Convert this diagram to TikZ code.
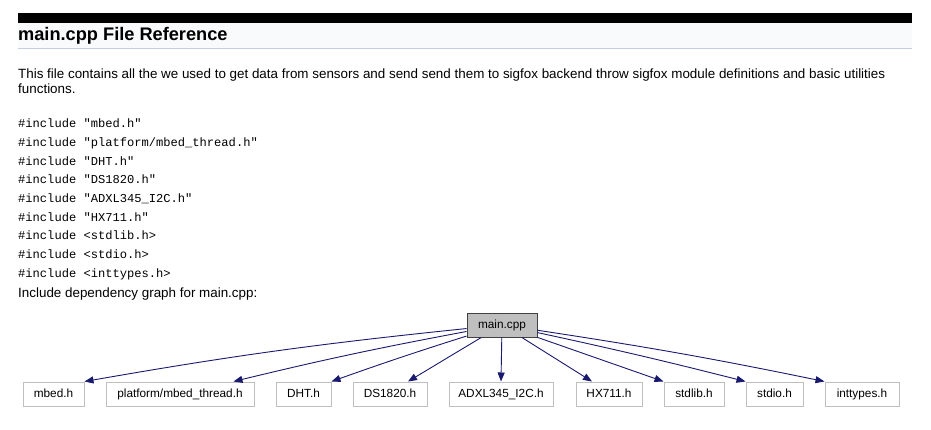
\documentclass[tikz,border=0pt]{standalone}
\usepackage{fontspec}
\setmainfont{Liberation Sans}
\setmonofont{Liberation Mono}
\usetikzlibrary{arrows.meta}
\definecolor{DocBar}{HTML}{000000}
\definecolor{DocHead}{HTML}{F9FAFC}
\definecolor{DocRule}{HTML}{C4CFE5}
\definecolor{GraphEdge}{HTML}{191970}
\definecolor{GraphLine}{HTML}{BFBFBF}
\definecolor{GraphMain}{HTML}{BFBFBF}
\definecolor{GraphMainLine}{HTML}{404040}
\tikzset{
  doctext/.style={anchor=base west,inner sep=0pt,font=\fontsize{13.4}{16}\selectfont},
  codeline/.style={anchor=base west,inner sep=0pt,font=\ttfamily\fontsize{12.1}{14}\selectfont},
  incfile/.style={draw=GraphLine,line width=1pt,inner sep=0pt,minimum height=24pt,text height=8.6pt,text depth=2.4pt,font=\fontsize{11.8}{13}\selectfont},
  mainfile/.style={incfile,draw=GraphMainLine,fill=GraphMain},
  incedge/.style={GraphEdge,line width=0.9pt,-{Triangle[length=9pt,width=7pt]}}
}
\begin{document}
\begin{tikzpicture}[x=1pt,y=-1pt]
\path[use as bounding box,fill=white] (0,0) rectangle (931,430);
% heading
\fill[DocBar] (18,13) rectangle (912,23);
\fill[DocHead] (18,23) rectangle (912,48);
\draw[DocRule] (18,48) -- (912,48);
\node[anchor=base west,inner sep=0pt,font=\bfseries\fontsize{18.2}{21}\selectfont] (title) at (18,41) {main.cpp File Reference};
\node[doctext] (brief1) at (18,79) {This file contains all the we used to get data from sensors and send send them to sigfox backend throw sigfox module definitions and basic utilities};
\node[doctext] (brief2) at (18,94) {functions.};
% include list
\node[codeline] (inc1) at (18,128) {\#include "mbed.h"};
\node[codeline] (inc2) at (18,146.7) {\#include "platform/mbed\_thread.h"};
\node[codeline] (inc3) at (18,165.3) {\#include "DHT.h"};
\node[codeline] (inc4) at (18,184) {\#include "DS1820.h"};
\node[codeline] (inc5) at (18,202.7) {\#include "ADXL345\_I2C.h"};
\node[codeline] (inc6) at (18,221.3) {\#include "HX711.h"};
\node[codeline] (inc7) at (18,240) {\#include <stdlib.h>};
\node[codeline] (inc8) at (18,258.7) {\#include <stdio.h>};
\node[codeline] (inc9) at (18,277.3) {\#include <inttypes.h>};
\node[doctext] (graphcap) at (18,297) {Include dependency graph for main.cpp:};
% dependency graph
\node[mainfile,minimum width=70pt] (main) at (502,325) {main.cpp};
\node[incfile,minimum width=61pt] (mbed) at (53.5,394) {mbed.h};
\node[incfile,minimum width=148pt] (thread) at (180,394) {platform/mbed\_thread.h};
\node[incfile,minimum width=55pt] (dht) at (303.5,394) {DHT.h};
\node[incfile,minimum width=74pt] (ds1820) at (390,394) {DS1820.h};
\node[incfile,minimum width=104pt] (adxl) at (501,394) {ADXL345\_I2C.h};
\node[incfile,minimum width=66pt] (hx711) at (609,394) {HX711.h};
\node[incfile,minimum width=60pt] (stdlib) at (694,394) {stdlib.h};
\node[incfile,minimum width=57pt] (stdio) at (774.5,394) {stdio.h};
\node[incfile,minimum width=74pt] (inttypes) at (862,394) {inttypes.h};
\draw[incedge] (main) to[bend right=2] (mbed.north east);
\draw[incedge] (main) to[bend right=1.5] ([xshift=-21pt]thread.north east);
\draw[incedge] (main) to[bend right=1] (dht.north east);
\draw[incedge] (main) -- ([xshift=18pt]ds1820.north);
\draw[incedge] (main) -- (adxl.north);
\draw[incedge] (main) -- ([xshift=-17pt]hx711.north);
\draw[incedge] (main) -- (stdlib.north west);
\draw[incedge] (main) to[bend left=1] (stdio.north west);
\draw[incedge] (main) to[bend left=1.5] (inttypes.north west);
\end{tikzpicture}
\end{document}
